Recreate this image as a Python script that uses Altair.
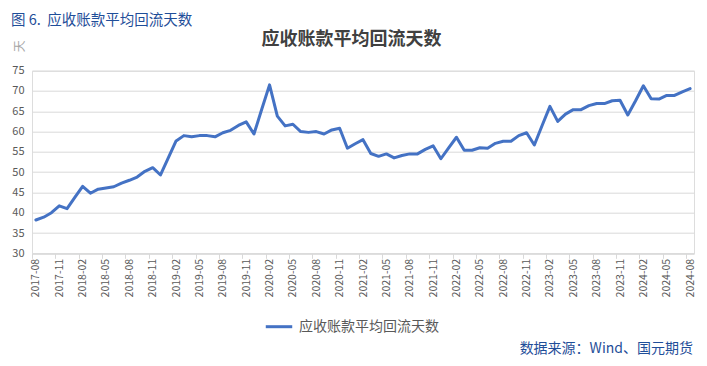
import altair as alt
import pandas as pd

months = [p.strftime('%Y-%m') for p in pd.period_range('2017-08', '2024-08', freq='M')]
values = [
    38.2, 38.9, 40.0, 41.7, 41.0, 43.8, 46.5, 44.8, 45.8, 46.1, 46.4, 47.3,
    48.0, 48.8, 50.2, 51.1, 49.3, 53.5, 57.7, 59.0, 58.7, 59.0, 59.0, 58.7,
    59.7, 60.3, 61.5, 62.4, 59.4, 65.5, 71.5, 63.8, 61.4, 61.8, 60.0, 59.8,
    60.0, 59.4, 60.4, 60.8, 55.9, 57.0, 58.0, 54.6, 53.9, 54.5, 53.5, 54.1,
    54.5, 54.5, 55.6, 56.5, 53.3, 56.0, 58.6, 55.4, 55.4, 56.0, 55.9, 57.1,
    57.6, 57.6, 59.0, 59.7, 56.7, 61.5, 66.2, 62.5, 64.3, 65.4, 65.4, 66.4,
    66.9, 66.9, 67.6, 67.7, 64.1, 67.6, 71.3, 68.1, 68.0, 68.9, 68.9, 69.8,
    70.6,
]
series_name = '应收账款平均回流天数'
header_text = '图 6.\u00a0\u00a0应收账款平均回流天数'
chart_title = '应收账款平均回流天数'
source_text = '数据来源：Wind、国元期货'
y_unit = '天'
y_ticks = [30, 35, 40, 45, 50, 55, 60, 65, 70, 75]

FONT = 'Noto Sans CJK SC'
BLUE = '#1F4E99'
GRID = '#D9D9D9'
LABEL = '#595959'

df = pd.DataFrame({
    'idx': list(range(len(months))),
    'month': months,
    'value': values,
    'series': series_name,
})

label_idx = list(range(0, len(months), 3))
label_expr = "[" + ",".join("'%s'" % m for m in months[::3]) + "][round(datum.value/3)]"
tick_vals = [i - 0.5 for i in label_idx]

W, H = 662, 182.6
xscale = alt.Scale(domain=[-0.5, len(months) - 0.5], nice=False, zero=False)
yscale = alt.Scale(domain=[30, 75], nice=False, zero=False)

ticks_layer = alt.Chart(df).mark_point(opacity=0).encode(
    x=alt.X('idx:Q', scale=xscale, axis=alt.Axis(
        orient='bottom', values=tick_vals, labels=False, ticks=True, tickSize=5,
        tickColor=GRID, domain=True, domainColor=GRID, grid=False, title=None)),
)

line = alt.Chart(df).mark_line(strokeWidth=3, strokeJoin='round', strokeCap='round').encode(
    x=alt.X('idx:Q', scale=xscale, axis=alt.Axis(
        orient='bottom', values=label_idx, labelExpr=label_expr, labelAngle=-90,
        labelAlign='right', labelBaseline='middle', ticks=False, domain=False,
        grid=False, labelFontSize=10.5, labelColor=LABEL, labelPadding=5,
        labelOverlap=False, title=None)),
    y=alt.Y('value:Q', scale=yscale, axis=alt.Axis(
        values=y_ticks, grid=True, gridColor=GRID, domain=False, ticks=False,
        labelPadding=8, labelColor=LABEL, labelFontSize=11,
        title=y_unit, titleAngle=270, titleX=-13, titleY=-25, titleColor='#A6A6A6',
        titleFontSize=12, titleFontWeight='normal', titleAlign='center',
        titleBaseline='middle')),
    color=alt.Color('series:N', scale=alt.Scale(range=['#4472C4']), legend=alt.Legend(
        orient='none', legendX=232, legendY=241, title=None, symbolType='stroke',
        symbolStrokeWidth=3, symbolSize=700, labelFontSize=14, labelColor=LABEL,
        labelOffset=5, padding=0, labelLimit=400)),
)

header = alt.Chart(pd.DataFrame({'t': [header_text]})).mark_text(
    align='left', baseline='middle', fontSize=14.5, color=BLUE
).encode(x=alt.value(-21), y=alt.value(-50), text='t:N')

title = alt.Chart(pd.DataFrame({'t': [chart_title]})).mark_text(
    align='center', baseline='middle', fontSize=18, fontWeight='bold', color='#404040'
).encode(x=alt.value(319.5), y=alt.value(-30.7), text='t:N')

footer = alt.Chart(pd.DataFrame({'t': [source_text]})).mark_text(
    align='right', baseline='middle', fontSize=14, color=BLUE
).encode(x=alt.value(661), y=alt.value(278), text='t:N')

chart = alt.layer(ticks_layer, line, header, title, footer).resolve_axis(
    x='independent'
).properties(
    width=W, height=H, autosize='none',
    padding={'left': 24, 'top': 62.7, 'right': 5, 'bottom': 104.7},
).configure_view(stroke=None).configure(font=FONT)

chart.save("out.html", embed_options={"renderer": "svg", "actions": False})
